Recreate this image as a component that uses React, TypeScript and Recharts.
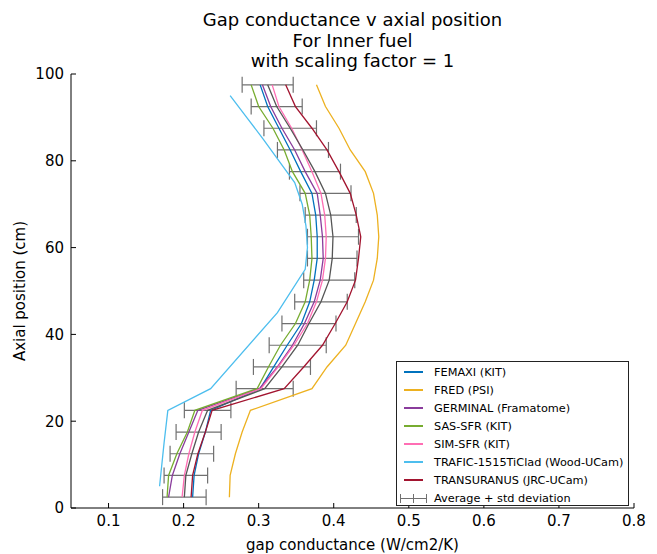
import { ScatterChart, Scatter, XAxis, YAxis, ErrorBar, Label } from 'recharts'

// axial positions (cm) where most codes and the average are sampled
const Y_LEVELS = [2.5, 7.5, 12.5, 17.5, 22.5, 27.5, 32.5, 37.5, 42.5, 47.5, 52.5, 57.5, 62.5, 67.5, 72.5, 77.5, 82.5, 87.5, 92.5, 97.5]
// TRAFIC uses its own axial mesh
const TRAFIC_Y = [5, 15, 22.5, 27.5, 45, 55, 60, 65, 70, 75, 80, 85, 90, 95]

// gap conductance (W/cm2/K), bottom to top
const FEMAXI = [0.212, 0.214, 0.22, 0.229, 0.236, 0.302, 0.32, 0.338, 0.357, 0.368, 0.374, 0.378, 0.378, 0.376, 0.371, 0.356, 0.342, 0.327, 0.312, 0.302]
const FRED = [0.261, 0.262, 0.269, 0.278, 0.289, 0.371, 0.391, 0.416, 0.429, 0.442, 0.453, 0.458, 0.46, 0.458, 0.453, 0.442, 0.422, 0.407, 0.389, 0.377]
const GERMINAL = [0.18, 0.185, 0.195, 0.207, 0.219, 0.301, 0.325, 0.345, 0.361, 0.374, 0.382, 0.386, 0.385, 0.382, 0.378, 0.362, 0.348, 0.331, 0.316, 0.305]
const SAS_SFR = [0.178, 0.18, 0.191, 0.205, 0.215, 0.298, 0.313, 0.329, 0.349, 0.362, 0.368, 0.371, 0.37, 0.368, 0.362, 0.345, 0.334, 0.319, 0.3, 0.29]
const SIM_SFR = [0.198, 0.201, 0.207, 0.215, 0.225, 0.303, 0.326, 0.347, 0.365, 0.377, 0.385, 0.389, 0.39, 0.388, 0.383, 0.371, 0.358, 0.344, 0.327, 0.318]
const TRAFIC = [0.168, 0.174, 0.179, 0.236, 0.325, 0.362, 0.365, 0.363, 0.358, 0.348, 0.327, 0.306, 0.284, 0.262]
const TRANSURANUS = [0.21, 0.212, 0.219, 0.229, 0.238, 0.334, 0.36, 0.385, 0.402, 0.418, 0.429, 0.433, 0.436, 0.43, 0.422, 0.407, 0.391, 0.371, 0.349, 0.336]
const AVERAGE = [0.201, 0.203, 0.211, 0.22, 0.232, 0.308, 0.331, 0.352, 0.367, 0.383, 0.394, 0.398, 0.399, 0.396, 0.389, 0.375, 0.359, 0.342, 0.324, 0.312]
const STD_DEV = [0.029, 0.029, 0.029, 0.03, 0.031, 0.038, 0.038, 0.038, 0.036, 0.035, 0.034, 0.033, 0.034, 0.034, 0.034, 0.034, 0.034, 0.035, 0.034, 0.034]

const X_TICKS = [0.1, 0.2, 0.3, 0.4, 0.5, 0.6, 0.7, 0.8]
const Y_TICKS = [0, 20, 40, 60, 80, 100]

const FONT = '"DejaVu Sans", sans-serif'

const toPoints = (xs: number[], ys: number[]) => xs.map((x, i) => ({ x, y: ys[i] }))

const SERIES = [
  { name: 'FEMAXI (KIT)', color: '#0072BD', data: toPoints(FEMAXI, Y_LEVELS) },
  { name: 'FRED (PSI)', color: '#EDB120', data: toPoints(FRED, Y_LEVELS) },
  { name: 'GERMINAL (Framatome)', color: '#8A3C9C', data: toPoints(GERMINAL, Y_LEVELS) },
  { name: 'SAS-SFR (KIT)', color: '#77AC30', data: toPoints(SAS_SFR, Y_LEVELS) },
  { name: 'SIM-SFR (KIT)', color: '#FF6EB4', data: toPoints(SIM_SFR, Y_LEVELS) },
  { name: 'TRAFIC-1515TiClad (Wood-UCam)', color: '#4DBEEE', data: toPoints(TRAFIC, TRAFIC_Y) },
  { name: 'TRANSURANUS (JRC-UCam)', color: '#A2142F', data: toPoints(TRANSURANUS, Y_LEVELS) },
]

const AVG_COLOR = '#555555'
const BAR_COLOR = '#707070'
const avgData = AVERAGE.map((x, i) => ({ x, y: Y_LEVELS[i], std: STD_DEV[i] }))

const noDot = () => <g />

function LegendBox() {
  return (
    <div
      style={{
        position: 'absolute',
        left: 396,
        top: 361,
        width: 231,
        height: 142,
        border: '1px solid #222',
        background: '#fff',
        fontFamily: FONT,
        fontSize: 11.3,
        paddingTop: 1,
        whiteSpace: 'nowrap',
        overflow: 'hidden',
      }}
    >
      {SERIES.map((s) => (
        <div key={s.name} style={{ height: 18, display: 'flex', alignItems: 'center' }}>
          <span style={{ marginLeft: 7, width: 19, height: 2, background: s.color, display: 'inline-block', flexShrink: 0 }} />
          <span style={{ marginLeft: 11 }}>{s.name}</span>
        </div>
      ))}
      <div style={{ height: 18, display: 'flex', alignItems: 'center' }}>
        <span style={{ marginLeft: 3, width: 27, height: 9, position: 'relative', display: 'inline-block', flexShrink: 0 }}>
          <span style={{ position: 'absolute', left: 0, top: 4, width: 27, height: 1.2, background: BAR_COLOR }} />
          <span style={{ position: 'absolute', left: 0, top: 0, width: 1.2, height: 9, background: BAR_COLOR }} />
          <span style={{ position: 'absolute', left: 13, top: 0, width: 1.2, height: 9, background: BAR_COLOR }} />
          <span style={{ position: 'absolute', left: 25.8, top: 0, width: 1.2, height: 9, background: BAR_COLOR }} />
        </span>
        <span style={{ marginLeft: 7 }}>Average + std deviation</span>
      </div>
    </div>
  )
}

export default function App() {
  return (
    <div style={{ position: 'absolute', left: 0, top: 0, width: 657, height: 554, background: '#fff' }}>
      <div
        style={{
          position: 'absolute',
          left: 71,
          width: 563,
          top: 10,
          textAlign: 'center',
          fontFamily: FONT,
          fontSize: 18,
          lineHeight: '20.5px',
        }}
      >
        <div>Gap conductance v axial position</div>
        <div>For Inner fuel</div>
        <div>with scaling factor = 1</div>
      </div>

      <ScatterChart
        width={657}
        height={554}
        margin={{ top: 74, right: 23, bottom: 0, left: 0 }}
        style={{ fontFamily: FONT }}
      >
        <XAxis
          xAxisId={0}
          type="number"
          dataKey="x"
          domain={[0.05, 0.8]}
          ticks={X_TICKS}
          allowDataOverflow
          height={46}
          stroke="#000"
          tickSize={-5}
          tickMargin={12}
          tick={{ fill: '#000', fontSize: 15 }}
          axisLine={{ stroke: '#000' }}
        >
          <Label
            content={({ viewBox }: any) => (
              <text
                x={viewBox.x + viewBox.width / 2}
                y={viewBox.y + viewBox.height - 4}
                textAnchor="middle"
                fontSize={15}
                fill="#000"
              >
                gap conductance (W/cm2/K)
              </text>
            )}
          />
        </XAxis>
        <XAxis
          xAxisId="top"
          orientation="top"
          type="number"
          dataKey="x"
          domain={[0.05, 0.8]}
          ticks={X_TICKS}
          allowDataOverflow
          height={0}
          stroke="#000"
          tickSize={-5}
          tick={false}
        />
        <YAxis
          yAxisId={0}
          type="number"
          dataKey="y"
          domain={[0, 100]}
          ticks={Y_TICKS}
          allowDataOverflow
          width={71}
          stroke="#000"
          tickSize={-5}
          tickMargin={12}
          tick={{ fill: '#000', fontSize: 15 }}
        >
          <Label
            content={({ viewBox }: any) => {
              const cx = viewBox.x + 25
              const cy = viewBox.y + viewBox.height / 2
              return (
                <text
                  x={cx}
                  y={cy}
                  transform={`rotate(-90, ${cx}, ${cy})`}
                  textAnchor="middle"
                  fontSize={15}
                  fill="#000"
                >
                  Axial position (cm)
                </text>
              )
            }}
          />
        </YAxis>
        <YAxis
          yAxisId="right"
          orientation="right"
          type="number"
          dataKey="y"
          domain={[0, 100]}
          ticks={Y_TICKS}
          allowDataOverflow
          width={0}
          stroke="#000"
          tickSize={-5}
          tick={false}
        />

        {SERIES.map((s) => (
          <Scatter
            key={s.name}
            name={s.name}
            data={s.data}
            fill={s.color}
            line={{ stroke: s.color, strokeWidth: 1.3 }}
            lineType="joint"
            shape={noDot}
            isAnimationActive={false}
          />
        ))}
        <Scatter
          name="Average + std deviation"
          data={avgData}
          fill={AVG_COLOR}
          line={{ stroke: AVG_COLOR, strokeWidth: 1.3 }}
          lineType="joint"
          shape={noDot}
          isAnimationActive={false}
        >
          <ErrorBar dataKey="std" direction="x" width={8} stroke={BAR_COLOR} strokeWidth={1.2} />
        </Scatter>
      </ScatterChart>

      <LegendBox />
    </div>
  )
}
